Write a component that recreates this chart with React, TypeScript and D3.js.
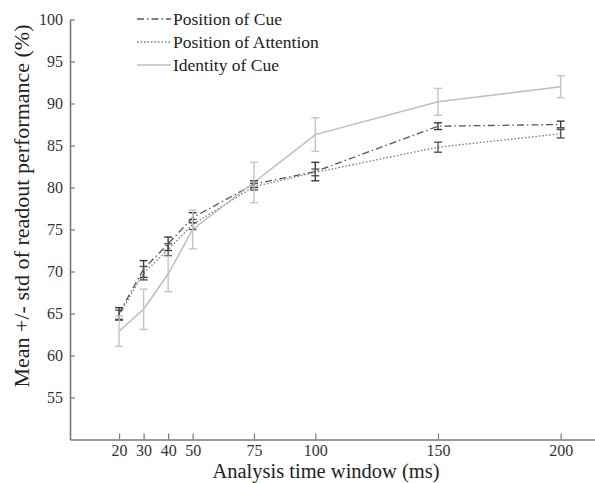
import React, { useEffect, useRef } from 'react';
import * as d3 from 'd3';

// analysis windows (ms)
const windows = [20, 30, 40, 50, 75, 100, 150, 200];

// mean and std of readout performance (%)
const cueMean = [65.0, 70.3, 73.3, 76.4, 80.4, 81.9, 87.3, 87.5];
const cueStd = [0.7, 1.0, 0.8, 0.6, 0.4, 1.1, 0.4, 0.4];
const attentionMean = [64.8, 69.8, 72.6, 75.6, 80.1, 81.8, 84.8, 86.4];
const attentionStd = [0.6, 0.8, 0.7, 0.6, 0.4, 0.4, 0.6, 0.5];
const identityMean = [62.9, 65.5, 69.7, 75.0, 80.6, 86.3, 90.2, 92.0];
const identityStd = [1.8, 2.4, 2.1, 2.3, 2.4, 2.0, 1.6, 1.3];

const yTicks = [55, 60, 65, 70, 75, 80, 85, 90, 95, 100];

const seriesNames = ['Position of Cue', 'Position of Attention', 'Identity of Cue'];

const W = 595;
const H = 483;
const FONT = '"Liberation Serif", "Times New Roman", serif';

export default function App() {
  const svgRef = useRef<SVGSVGElement>(null);

  useEffect(() => {
    if (!svgRef.current) return;
    const svg = d3.select(svgRef.current);
    svg.selectAll('*').remove();

    const left = 70;
    const bottom = 439.5;

    const x = d3.scaleLinear().domain([0, 214]).range([left, W]);
    const y = d3.scaleLinear().domain([50, 100]).range([bottom, 19.5]);

    const series = [
      { name: seriesNames[0], mean: cueMean, std: cueStd, color: '#555', barColor: '#3a3a3a', dash: '7,3,1.5,3', width: 1.3 },
      { name: seriesNames[1], mean: attentionMean, std: attentionStd, color: '#777', barColor: '#555', dash: '1.5,2', width: 1.3 },
      { name: seriesNames[2], mean: identityMean, std: identityStd, color: '#bdbdbd', barColor: '#c4c4c4', dash: null, width: 1.5 },
    ];

    // axes (ticks point inward, no box)
    const xAxis = svg.append('g')
      .attr('transform', `translate(0,${bottom})`)
      .call(d3.axisBottom(x).tickValues(windows).tickSize(-6).tickPadding(5.5).tickSizeOuter(0));
    const yAxis = svg.append('g')
      .attr('transform', `translate(${left},0)`)
      .call(d3.axisLeft(y).tickValues(yTicks).tickSize(-5).tickPadding(7).tickSizeOuter(0));

    [xAxis, yAxis].forEach(a => {
      a.select('.domain').attr('stroke', '#777').attr('stroke-width', 1.6);
      a.selectAll('.tick line').attr('stroke', '#777').attr('stroke-width', 1.2);
      a.selectAll('.tick text')
        .attr('fill', '#333')
        .style('font-family', FONT)
        .style('font-size', '16px');
    });

    // lines
    series.forEach(s => {
      const pts = windows.map((w, i) => [w, s.mean[i]] as [number, number]);
      const line = d3.line<[number, number]>()
        .x(d => x(d[0]))
        .y(d => y(d[1]));
      svg.append('path')
        .datum(pts)
        .attr('d', line)
        .attr('fill', 'none')
        .attr('stroke', s.color)
        .attr('stroke-width', s.width)
        .attr('stroke-dasharray', s.dash);
    });

    // error bars
    series.forEach(s => {
      const g = svg.append('g');
      windows.forEach((w, i) => {
        const cx = x(w);
        const y0 = y(s.mean[i] - s.std[i]);
        const y1 = y(s.mean[i] + s.std[i]);
        const cap = 4;
        g.append('line').attr('x1', cx).attr('x2', cx).attr('y1', y0).attr('y2', y1)
          .attr('stroke', s.barColor).attr('stroke-width', 1.4);
        [y0, y1].forEach(yy => {
          g.append('line').attr('x1', cx - cap).attr('x2', cx + cap).attr('y1', yy).attr('y2', yy)
            .attr('stroke', s.barColor).attr('stroke-width', 1.4);
        });
      });
    });

    // legend
    const legend = svg.append('g').attr('transform', 'translate(137,19)');
    series.forEach((s, i) => {
      const row = legend.append('g').attr('transform', `translate(0,${i * 23})`);
      row.append('line')
        .attr('x1', 0).attr('x2', 34).attr('y1', 0).attr('y2', 0)
        .attr('stroke', s.color)
        .attr('stroke-width', s.width)
        .attr('stroke-dasharray', s.dash);
      row.append('text')
        .attr('x', 36)
        .attr('y', 5.5)
        .attr('fill', '#222')
        .style('font-family', FONT)
        .style('font-size', '17.5px')
        .text(s.name);
    });

    // axis titles
    svg.append('text')
      .attr('x', 326)
      .attr('y', 478)
      .attr('text-anchor', 'middle')
      .attr('fill', '#222')
      .style('font-family', FONT)
      .style('font-size', '20.5px')
      .text('Analysis time window (ms)');

    svg.append('text')
      .attr('transform', `translate(29,206) rotate(-90)`)
      .attr('text-anchor', 'middle')
      .attr('fill', '#222')
      .style('font-family', FONT)
      .style('font-size', '22px')
      .text('Mean +/- std of readout performance (%)');
  }, []);

  return (
    <div style={{ position: 'fixed', left: 0, top: 0 }}>
      <svg ref={svgRef} width={W} height={H} style={{ display: 'block', background: '#fff' }} />
    </div>
  );
}
